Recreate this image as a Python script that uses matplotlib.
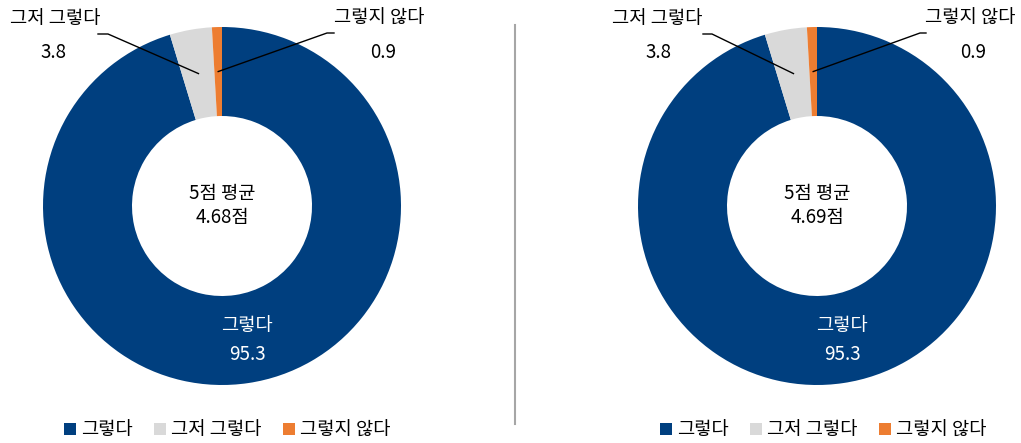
import numpy as np
import matplotlib
matplotlib.use('Agg')
import matplotlib.pyplot as plt
from matplotlib.patches import Patch

plt.rcParams['font.family'] = ['Noto Sans CJK KR', 'DejaVu Sans']

categories = ['그렇다', '그저 그렇다', '그렇지 않다']
values_left = [95.3, 3.8, 0.9]
values_right = [95.3, 3.8, 0.9]
averages = [4.68, 4.69]
colors = ['#003F7F', '#D9D9D9', '#ED7D31']

W, H = 1021, 443
fig = plt.figure(figsize=(W / 100, H / 100), dpi=100)
ax = fig.add_axes([0, 0, 1, 1])

R_OUT, R_IN = 179, 90


def py(y):
    # image y (from top) -> plot y
    return H - y


def wedge_mid(cx, cy, vals, i):
    total = sum(vals)
    start = sum(vals[:i]) / total * 360
    mid = start + vals[i] / total * 180
    r = (R_OUT + R_IN) / 2
    a = np.deg2rad(mid)
    return cx + r * np.sin(a), cy + r * np.cos(a)


charts = [
    # center x, values, average, label layout
    dict(cx=222, vals=values_left, avg=averages[0],
         gray_txt=(55, 18), gray_val=(53, 52), gray_line=(98, 108),
         org_txt=(379, 18), org_val=(383, 52), org_line=(334, 327),
         leg_x=227),
    dict(cx=817, vals=values_right, avg=averages[1],
         gray_txt=(657, 18), gray_val=(658, 52), gray_line=(703, 712),
         org_txt=(970, 18), org_val=(973, 52), org_line=(926, 920),
         leg_x=823),
]

cy = py(206)
fs = 13.5
legends = []
for c in charts:
    cx = c['cx']
    vals = c['vals']
    ax.pie(vals, colors=colors, startangle=90, counterclock=False,
           center=(cx, cy), radius=R_OUT,
           wedgeprops=dict(width=R_OUT - R_IN, linewidth=0))

    # center text
    ax.text(cx, py(193), '5점 평균', ha='center', va='center', fontsize=fs)
    ax.text(cx, py(217), f'{c["avg"]:.2f}점', ha='center', va='center', fontsize=fs)

    # inner label for 그렇다
    ax.text(cx + 25, py(325), categories[0], ha='center', va='center',
            fontsize=fs, color='white')
    ax.text(cx + 25, py(355), f'{vals[0]}', ha='center', va='center',
            fontsize=fs, color='white')

    # outside labels
    ax.text(c['gray_txt'][0], py(c['gray_txt'][1]), categories[1],
            ha='center', va='center', fontsize=fs)
    ax.text(c['gray_val'][0], py(c['gray_val'][1]), f'{vals[1]}',
            ha='center', va='center', fontsize=fs)
    ax.text(c['org_txt'][0], py(c['org_txt'][1]), categories[2],
            ha='center', va='center', fontsize=fs)
    ax.text(c['org_val'][0], py(c['org_val'][1]), f'{vals[2]}',
            ha='center', va='center', fontsize=fs)

    # leader lines
    gx, gy = wedge_mid(cx, cy, vals, 1)
    x0, x1 = c['gray_line']
    ax.plot([x0, x1, gx], [py(34), py(34), gy], color='black', lw=1)
    ox, oy = wedge_mid(cx, cy, vals, 2)
    x0, x1 = c['org_line']
    ax.plot([x0, x1, ox], [py(33), py(33), oy], color='black', lw=1)

    handles = [Patch(facecolor=col, edgecolor='none') for col in colors]
    leg = ax.legend(handles, categories, loc='center',
                    bbox_to_anchor=(c['leg_x'] / W, 1 - 430 / H),
                    ncol=3, frameon=False, fontsize=fs,
                    handlelength=0.65, handleheight=0.65, handletextpad=0.25,
                    columnspacing=1.15)
    legends.append(leg)

ax.legend_ = None
for leg in legends:
    ax.add_artist(leg)

# separator
ax.plot([514.5, 514.5], [py(25), py(424)], color='#A6A6A6', lw=1.5)

ax.set_xlim(0, W)
ax.set_ylim(0, H)
ax.set_aspect('auto')
ax.axis('off')

fig.savefig('out.png', dpi=100)
